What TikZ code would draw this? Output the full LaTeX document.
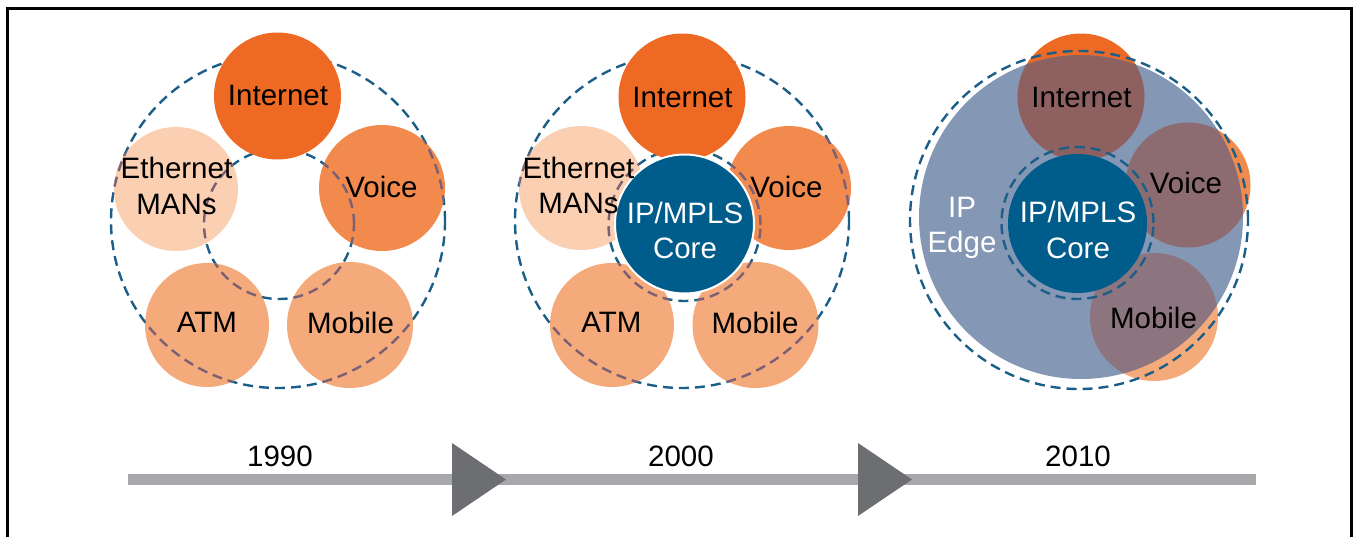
\documentclass[tikz,border=0pt]{standalone}
\usepackage{fontspec}
\setmainfont{Liberation Sans}
\definecolor{cint}{RGB}{238,106,36}
\definecolor{cvoice}{RGB}{242,138,78}
\definecolor{catm}{RGB}{245,170,124}
\definecolor{ceth}{RGB}{251,208,178}
\definecolor{ccore}{RGB}{0,92,138}
\definecolor{clav}{RGB}{132,151,181}
\definecolor{dblue}{RGB}{27,94,136}
\definecolor{mauve}{RGB}{122,96,114}
\definecolor{oint}{RGB}{142,97,96}
\definecolor{ovoice}{RGB}{140,108,112}
\definecolor{omob}{RGB}{141,117,128}
\definecolor{cbar}{RGB}{167,168,171}
\definecolor{ctri}{RGB}{109,110,113}
\begin{document}
\begin{tikzpicture}[x=1pt,y=-1pt,
  dring/.style={draw=dblue,line width=2.4pt,dash pattern=on 10pt off 6pt},
  mring/.style={draw=mauve,line width=2.4pt,dash pattern=on 10pt off 6pt},
  lbl/.style={font=\fontsize{29.5}{35.5}\selectfont,inner sep=0pt,text depth=0pt,align=center},
  wlbl/.style={lbl,text=white}]
\useasboundingbox (0,0) rectangle (1353,536);
% frame
\draw[line width=2.6pt] (7.5,540) -- (7.5,8.5) -- (1351.5,8.5) -- (1351.5,540);

% ---------- Panel 1 (1990) ----------
\draw[dring] (278,221) circle (167pt);
\draw[dring] (279,224) circle (75pt);
\fill[ceth] (176,189) circle (62pt);
\fill[cvoice] (382,188) circle (63pt);
\fill[catm] (207,325) circle (62pt);
\fill[catm] (350,325) circle (63pt);
\begin{scope}
  \clip (176,189) circle (62pt) (382,188) circle (63pt) (207,325) circle (62pt) (350,325) circle (63pt);
  \draw[mring] (278,221) circle (167pt);
  \draw[mring] (279,224) circle (75pt);
\end{scope}
\fill[cint] (277.5,96) circle (63.5pt);
\node[lbl] (int1) at (278,95.5) {Internet};
\node[lbl] (eth1) at (176.5,186) {Ethernet\\MANs};
\node[lbl] (voi1) at (381.5,186.5) {Voice};
\node[lbl] (atm1) at (207,322.5) {ATM};
\node[lbl] (mob1) at (350.5,322.5) {Mobile};

% ---------- Panel 2 (2000) ----------
\draw[dring] (682,221) circle (167pt);
\draw[dring] (684.5,225) circle (76pt);
\fill[ceth] (581,188) circle (62pt);
\fill[cvoice] (789,188) circle (62pt);
\fill[catm] (612,325) circle (62pt);
\fill[catm] (755.5,325) circle (63pt);
\begin{scope}
  \clip (581,188) circle (62pt) (789,188) circle (62pt) (612,325) circle (62pt) (755.5,325) circle (63pt);
  \draw[mring] (682,221) circle (167pt);
  \draw[mring] (684.5,225) circle (76pt);
\end{scope}
\fill[cint] (682,97) circle (63.5pt);
\filldraw[fill=ccore,draw=white,line width=2pt] (684.5,224) circle (69.5pt);
\node[lbl] (int2) at (682.5,97.5) {Internet};
\node[lbl] (eth2) at (578.5,185.5) {Ethernet\\MANs};
\node[lbl] (voi2) at (786.5,186.5) {Voice};
\node[lbl] (atm2) at (611.5,322.5) {ATM};
\node[lbl] (mob2) at (755,322.5) {Mobile};
\node[wlbl] (core2) at (685,230.5) {IP/MPLS\\Core};

% ---------- Panel 3 (2010) ----------
\fill[cint] (1081,97) circle (63.5pt);
\fill[cvoice] (1188,185) circle (62.5pt);
\fill[catm] (1154,317) circle (64pt);
\fill[clav] (1081,217) circle (162pt);
\begin{scope}
  \clip (1081,217) circle (162pt);
  \fill[oint] (1081,97) circle (63.5pt);
  \fill[ovoice] (1188,185) circle (62.5pt);
  \fill[omob] (1154,317) circle (64pt);
\end{scope}
\fill[ccore] (1077.5,223.5) circle (69.5pt);
\draw[dring] (1079,220) circle (169pt);
\draw[dring] (1077.5,223) circle (76pt);
\node[lbl] (int3) at (1081.5,97.5) {Internet};
\node[lbl] (voi3) at (1186,182.5) {Voice};
\node[lbl] (mob3) at (1153.5,317.5) {Mobile};
\node[wlbl] (core3) at (1078,230) {IP/MPLS\\Core};
\node[wlbl] (edge3) at (962,225) {IP\\Edge};

% ---------- Timeline ----------
\fill[cbar] (128,473.5) rectangle (1256,484.5);
\fill[ctri] (452,443) -- (506,479.5) -- (452,516) -- cycle;
\fill[ctri] (858,443) -- (912,479.5) -- (858,516) -- cycle;
\node[lbl] (y1990) at (280,456) {1990};
\node[lbl] (y2000) at (681,456) {2000};
\node[lbl] (y2010) at (1078,456) {2010};
\end{tikzpicture}
\end{document}
